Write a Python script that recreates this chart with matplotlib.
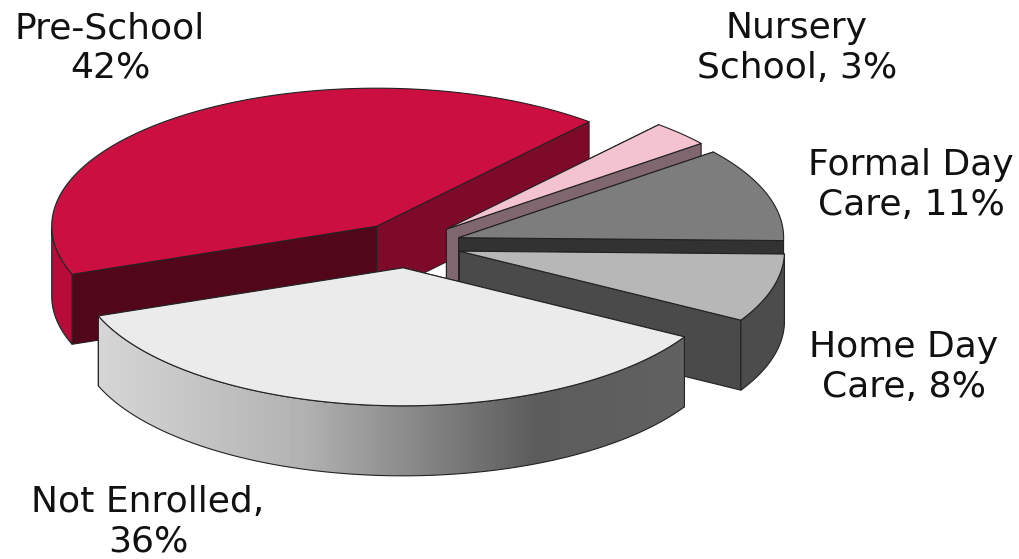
import numpy as np
import matplotlib
matplotlib.use("Agg")
import matplotlib.pyplot as plt
from matplotlib.patches import Polygon

# Shares of each slice, clockwise from the Pre-School start edge
categories = ["Pre-School", "Nursery School", "Formal Day Care", "Home Day Care", "Not Enrolled"]
shares = [42, 3, 11, 8, 36]
labels = ["Pre-School\n42%", "Nursery\nSchool, 3%", "Formal Day\nCare, 11%", "Home Day\nCare, 8%", "Not Enrolled,\n36%"]

# Colours per slice: top, start face, end face, outer wall
top_colors = ["#cb1041", "#f4c3d0", "#7d7d7d", "#b7b7b7", "#ebebeb"]
start_colors = ["#52061a", "#80666e", "#4d4d4d", "#4a4a4a", "#d6d6d6"]
end_colors = ["#7e0a2a", "#80666e", "#323232", "#4a4a4a", "#666666"]
wall_colors = ["#b80b3a", "#80666e", "#323232", "#4c4c4c", None]

# Pie geometry in pixels
CX, CY = 407.5, 245
RX, RY = 325, 138
DEPTH = 70
EXPLODE = 0.166
START_ANGLE = 200.4
EDGE = "#222222"
W, H = 1019, 559


def rim(cx, cy, angles):
    rad = np.radians(angles)
    return cx + RX * np.cos(rad), cy - RY * np.sin(rad)


def draw_wall(ax, i, wx, wy):
    pts = list(zip(wx, wy)) + list(zip(wx[::-1], wy[::-1] + DEPTH))
    col = wall_colors[i]
    if col is not None:
        ax.add_patch(Polygon(pts, closed=True, fc=col, ec=EDGE, lw=0.8))
        return
    # the Not Enrolled wall fades from light to dark left to right
    patch = Polygon(pts, closed=True, fc="none", ec=EDGE, lw=0.8, zorder=3)
    ax.add_patch(patch)
    grays = np.interp(np.arange(W), [97, 300, 535, 683], [0.84, 0.70, 0.36, 0.38])
    im = ax.imshow(grays[np.newaxis, :], extent=(0, W, H, 0), cmap="gray", vmin=0, vmax=1,
                   aspect="auto", zorder=2)
    im.set_clip_path(patch)


def draw_slice(ax, i, a1, a2):
    z = 2 + i * 0.1
    mid = np.radians((a1 + a2) / 2)
    cx = CX + EXPLODE * RX * np.cos(mid)
    cy = CY - EXPLODE * RY * np.sin(mid)
    angles = np.linspace(a1, a2, 200)
    xs, ys = rim(cx, cy, angles)

    # cut faces
    for k, col in ((0, start_colors[i]), (-1, end_colors[i])):
        pts = [(cx, cy), (xs[k], ys[k]), (xs[k], ys[k] + DEPTH), (cx, cy + DEPTH)]
        ax.add_patch(Polygon(pts, closed=True, fc=col, ec=EDGE, lw=0.8, joinstyle="round"))

    # outer wall, only the part facing the viewer, skip slivers hidden by the next slice
    vis = np.sin(np.radians(angles)) <= 0.001
    if vis.sum() > 20:
        draw_wall(ax, i, xs[vis], ys[vis])

    # top surface
    top = [(cx, cy)] + list(zip(xs, ys))
    ax.add_patch(Polygon(top, closed=True, fc=top_colors[i], ec=EDGE, lw=0.8, joinstyle="round", zorder=4))


fig = plt.figure(figsize=(W / 100, H / 100), dpi=100)
ax = fig.add_axes([0, 0, 1, 1])
ax.axis("off")

edges = START_ANGLE - np.cumsum([0] + shares) * 3.6
# each slice goes on its own axes layer so later slices cover earlier ones
for i in range(len(shares)):
    sub = fig.add_axes([0, 0, 1, 1], zorder=i + 1)
    sub.set_xlim(0, W)
    sub.set_ylim(H, 0)
    sub.axis("off")
    draw_slice(sub, i, edges[i], edges[i + 1])
    sub.set_xlim(0, W)
    sub.set_ylim(H, 0)

label_pos = [(110, 48), (797, 48), (911, 185), (904, 367), (148, 522)]
for text, (x, y) in zip(labels, label_pos):
    sub.text(x, y, text, ha="center", va="center", fontsize=26, color="#111111",
             family="DejaVu Sans", linespacing=1.19, zorder=10)

fig.savefig("out.png", dpi=100)
